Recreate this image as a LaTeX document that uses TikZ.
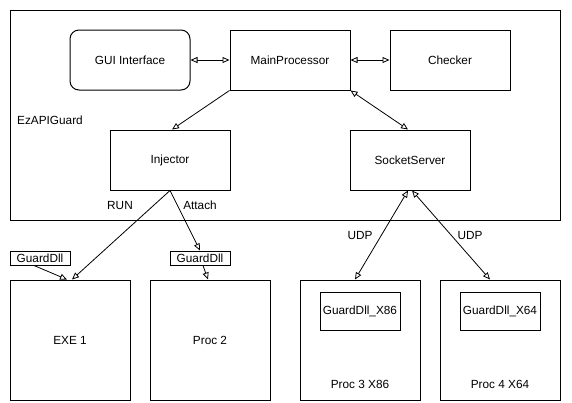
\documentclass[tikz,border=0pt]{standalone}
\usepackage{fontspec}
\setmainfont{Liberation Sans}
\usetikzlibrary{arrows.meta,calc}
\begin{document}
\begin{tikzpicture}[x=1pt,y=-1pt,
  every node/.style={font=\fontsize{11.8}{14}\selectfont, inner sep=0pt},
  box/.style={draw, line width=1pt, minimum width=120pt, minimum height=60pt},
  procbox/.style={draw, line width=1pt, minimum width=120pt, minimum height=120pt},
  dllbox/.style={draw, line width=1pt, minimum width=60pt, minimum height=14pt},
  innerdll/.style={draw, line width=1pt, minimum width=80pt, minimum height=38pt},
  tip/.tip={Triangle[open, length=7pt, width=6pt]},
  arrow/.style={line width=0.8pt, -tip},
  biarrow/.style={line width=0.8pt, tip-tip}
]
\useasboundingbox (0,0) rectangle (572,402);
\fill[white] (0,0) rectangle (572,402);

% application frame
\node[draw, line width=1pt, minimum width=550pt, minimum height=210pt] (guard) at (285,115) {};
\node[anchor=west] (guardlbl) at (17,120) {EzAPIGuard};

% components inside the frame
\node[box, rounded corners=9pt] (gui) at (130,60) {GUI Interface};
\node[box] (mp) at (290,60) {MainProcessor};
\node[box] (chk) at (450,60) {Checker};
\node[box] (inj) at (170,160) {Injector};
\node[box] (ss) at (410,160) {SocketServer};

% target processes
\node[procbox] (exe) at (70,340) {EXE 1};
\node[procbox] (p2) at (210,340) {Proc 2};
\node[procbox] (p3) at (360,340) {};
\node[procbox] (p4) at (500,340) {};
\node (p3lbl) at (360,384) {Proc 3 X86};
\node (p4lbl) at (500,384) {Proc 4 X64};
\node[innerdll] (d3) at (360,311) {GuardDll\_X86};
\node[innerdll] (d4) at (500,311) {GuardDll\_X64};

% injected libraries
\node[dllbox] (g1) at (40,258) {GuardDll};
\node[dllbox] (g2) at (200,258) {GuardDll};

% connectors
\draw[biarrow] (gui.east) -- (mp.west);
\draw[biarrow] (mp.east) -- (chk.west);
\draw[arrow] (mp.south west) -- ($(inj.north)+(2,0)$);
\draw[biarrow] (mp.south east) -- ($(ss.north)+(-2,0)$);
\draw[arrow] (inj.south) -- ($(exe.north)+(2,0)$);
\draw[arrow] (inj.south) -- (g2.north);
\draw[arrow] ($(g1.south)+(-6,0)$) -- ($(exe.north)+(-3,0)$);
\draw[arrow] ($(g2.south)+(3,0)$) -- ($(p2.north)+(-2,0)$);
\draw[biarrow] ($(ss.south)+(-2,0)$) -- ($(p3.north)+(-5,0)$);
\draw[biarrow] ($(ss.south)+(2,0)$) -- ($(p4.north)+(-10,0)$);

% connector labels
\node (run) at (120,205) {RUN};
\node (attach) at (200,205) {Attach};
\node (udp1) at (360,235) {UDP};
\node (udp2) at (470,235) {UDP};
\end{tikzpicture}
\end{document}
